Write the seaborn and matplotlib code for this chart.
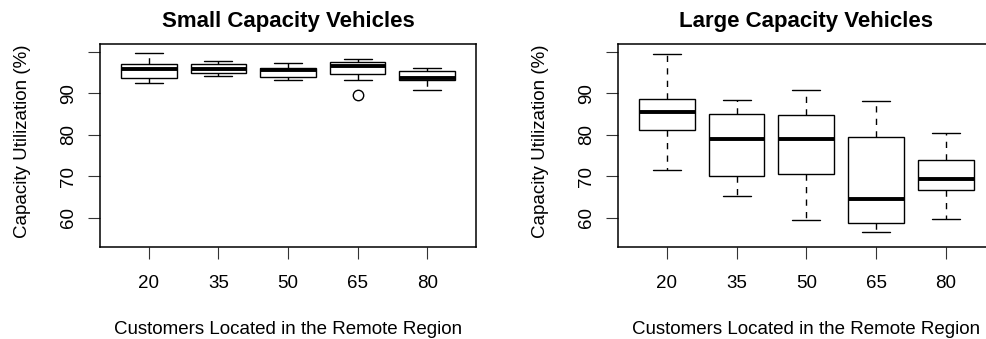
import matplotlib
matplotlib.use("Agg")
import matplotlib.pyplot as plt
import seaborn as sns
import pandas as pd

# Number of customers located in the remote region
customers = [20, 35, 50, 65, 80]
x_tick_labels = ["20", "35", "50", "65", "80"]
y_ticks = [60, 70, 80, 90, 100]
y_tick_labels = ["60", "70", "80", "90", ""]

# Capacity utilization (%) observations per scenario, small vehicles
small_20 = [92.6, 93.7, 95.8, 97.1, 99.7]
small_35 = [94.2, 95.0, 95.9, 97.1, 97.7]
small_50 = [93.2, 94.0, 95.7, 96.2, 97.4]
small_65 = [89.5, 93.3, 94.7, 94.7, 96.6, 97.5, 97.5, 98.2, 98.2]
small_80 = [90.9, 93.3, 93.8, 95.5, 96.1]

# Capacity utilization (%) observations per scenario, large vehicles
large_20 = [71.6, 81.2, 85.6, 88.7, 99.6]
large_35 = [65.3, 70.0, 79.1, 85.1, 88.3]
large_50 = [59.6, 70.7, 78.9, 84.9, 90.8]
large_65 = [56.7, 58.7, 64.6, 79.6, 88.1]
large_80 = [59.8, 66.8, 69.4, 73.9, 80.4]

small_groups = [small_20, small_35, small_50, small_65, small_80]
large_groups = [large_20, large_35, large_50, large_65, large_80]


def long_frame(groups):
    rows = []
    for c, obs in zip(customers, groups):
        rows += [(c, v) for v in obs]
    return pd.DataFrame(rows, columns=["customers", "utilization"])


sns.set_style("white")
plt.rcParams["font.family"] = ["Liberation Sans", "DejaVu Sans"]
plt.rcParams["text.color"] = "black"
plt.rcParams["axes.labelcolor"] = "black"

fig = plt.figure(figsize=(9.86, 3.39), dpi=100)
W, H = 986.0, 339.0
ax1 = fig.add_axes([100 / W, 92 / H, 376 / W, 203 / H])
ax2 = fig.add_axes([618 / W, 92 / H, 376.6 / W, 203 / H])

panels = [
    (ax1, small_groups, "Small Capacity Vehicles"),
    (ax2, large_groups, "Large Capacity Vehicles"),
]

for ax, groups, title in panels:
    df = long_frame(groups)
    sns.boxplot(
        data=df, x="customers", y="utilization", order=customers, ax=ax,
        color="white", linecolor="black", linewidth=1.0, width=0.8,
        whis=1.5,
        whiskerprops=dict(linestyle=(0, (4.5, 4.5))),
        medianprops=dict(linewidth=2.8),
        flierprops=dict(marker="o", markersize=7.5, markerfacecolor="none",
                        markeredgecolor="black", markeredgewidth=1.0),
    )
    ax.set_xlim(-0.7, 4.7)
    ax.set_ylim(53.0, 101.9)
    ax.set_xticks(range(len(customers)), x_tick_labels)
    ax.set_yticks(y_ticks, y_tick_labels)
    ax.tick_params(axis="both", direction="out", length=8.3, width=0.8,
                   color="#333333", labelsize=13.5, labelcolor="black",
                   bottom=True, left=True, top=False, right=False)
    ax.tick_params(axis="x", pad=11.5)
    ax.tick_params(axis="y", pad=8.5, labelrotation=90)
    for lab in ax.get_yticklabels():
        lab.set_va("center")
    for sp in ax.spines.values():
        sp.set_visible(True)
        sp.set_color("black")
        sp.set_linewidth(1.1)
    ax.set_title(title, fontsize=16, fontweight="bold", pad=12.6,
                 color="black")
    ax.set_xlabel("Customers Located in the Remote Region", fontsize=13.5,
                  va="center", color="black")
    ax.xaxis.set_label_coords(0.5, -0.404)
    ax.set_ylabel("Capacity Utilization (%)", fontsize=13.5, va="center",
                  color="black")
    ax.yaxis.set_label_coords(-0.205, 0.52)

fig.savefig("out.png", dpi=100, facecolor="white")
